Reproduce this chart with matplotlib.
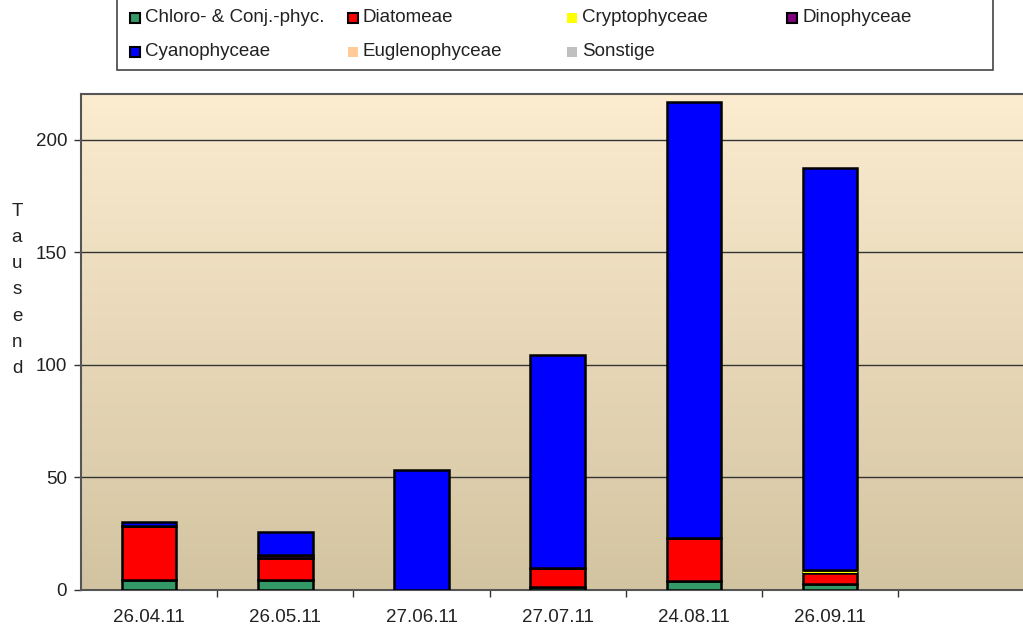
import matplotlib.pyplot as plt
import numpy as np
from matplotlib.colors import LinearSegmentedColormap
from matplotlib.patches import Rectangle

plt.rcParams['font.family'] = ['Liberation Sans', 'DejaVu Sans']

# sampling dates and cell counts (thousands) per algae group
dates = ["26.04.11", "26.05.11", "27.06.11", "27.07.11", "24.08.11", "26.09.11"]
chloro = [4.5, 4.5, 0.0, 1.5, 4.1, 2.5]
diatom = [23.9, 9.5, 0.0, 8.4, 18.9, 5.0]
crypto = [0.0, 0.0, 0.0, 0.0, 0.0, 1.2]
dino = [0.0, 1.5, 0.0, 0.0, 0.0, 0.0]
cyano = [2.0, 10.1, 53.2, 94.5, 193.7, 178.7]
eugleno = [0.0, 0.0, 0.0, 0.0, 0.0, 0.0]
sonstige = [0.0, 0.0, 0.0, 0.0, 0.0, 0.0]

series = [
    ("Chloro- & Conj.-phyc.", chloro, "#339966", True),
    ("Diatomeae", diatom, "#FF0000", True),
    ("Cryptophyceae", crypto, "#FFFF00", False),
    ("Dinophyceae", dino, "#800080", True),
    ("Cyanophyceae", cyano, "#0000FF", True),
    ("Euglenophyceae", eugleno, "#FFCC99", False),
    ("Sonstige", sonstige, "#C0C0C0", False),
]

W, H = 1023, 630
fig = plt.figure(figsize=(W / 100, H / 100), dpi=100)
ax = fig.add_axes([81 / W, 1 - 590 / H, 1 - 81 / W, (590 - 94) / H])

# background gradient: light peach at top, tan at bottom
cmap = LinearSegmentedColormap.from_list("bg", ["#D3C4A1", "#FCECD0"])
grad = np.linspace(0, 1, 256).reshape(-1, 1)
ax.imshow(grad, extent=[0, 1, 0, 1], transform=ax.transAxes, cmap=cmap,
          origin="lower", aspect="auto", zorder=0)

x = np.arange(len(dates))
bottom = np.zeros(len(dates))
for name, vals, color, edged in series:
    vals = np.array(vals)
    ax.bar(x, vals, width=0.4, bottom=bottom, color=color,
           edgecolor="black" if edged else "none", linewidth=1.8, zorder=3)
    bottom += vals

ax.set_xlim(-0.5, (W - 81) / 136.2 - 0.5)
ax.set_ylim(0, 220.4)

ax.set_yticks([0, 50, 100, 150, 200])
for yv in [50, 100, 150, 200]:
    ax.axhline(yv, color="#333333", linewidth=1.0, zorder=1)
ax.tick_params(axis="y", length=5, width=1, color="#333333", pad=5,
               labelsize=13.5, labelcolor="#222222")

ax.set_xticks(x)
ax.set_xticklabels(dates)
ax.set_xticks(np.arange(len(dates)) + 0.5, minor=True)
ax.tick_params(axis="x", which="major", length=0, pad=14,
               labelsize=13.5, labelcolor="#222222")
ax.tick_params(axis="x", which="minor", length=5, width=1, color="#333333")

for side in ["left", "bottom", "top"]:
    ax.spines[side].set_color("#555555")
    ax.spines[side].set_linewidth(1.5)
ax.spines["right"].set_visible(False)

fig.text(17 / W, 1 - 290 / H, "\n".join("Tausend"), ha="center", va="center",
         fontsize=13.5, color="#222222", linespacing=1.71)

# legend box, drawn in pixel positions of the figure
def fx(px):
    return px / W

def fy(py):
    return 1 - py / H

fig.patches.append(Rectangle((fx(117), fy(70)), fx(993) - fx(117), fy(-5) - fy(70),
                             transform=fig.transFigure, facecolor="white",
                             edgecolor="#444444", linewidth=1.2))
cols = [130, 348, 567, 787]
rows = [18, 52]
for i, (name, vals, color, edged) in enumerate(series):
    r, c = divmod(i, 4)
    mx, my = cols[c], rows[r]
    fig.patches.append(Rectangle((fx(mx), fy(my + 5)), fx(10), 10 / H,
                                 transform=fig.transFigure, facecolor=color,
                                 edgecolor="black" if edged else "none",
                                 linewidth=1.5))
    fig.text(fx(mx + 15), fy(my), name, ha="left", va="center",
             fontsize=13.5, color="#222222")

fig.savefig("out.png", dpi=100)
